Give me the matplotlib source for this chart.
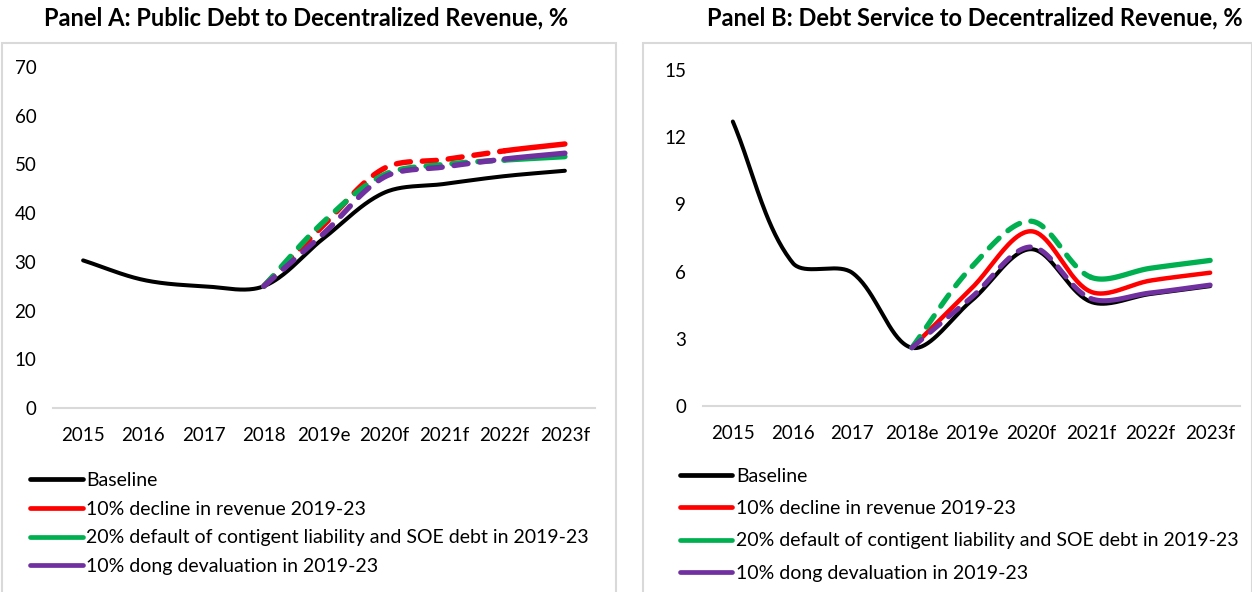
import numpy as np
import matplotlib.pyplot as plt
from matplotlib.patches import Rectangle

plt.rcParams['font.family'] = ['Lato', 'DejaVu Sans']

# ---- data ----
years_a = ['2015', '2016', '2017', '2018', '2019e', '2020f', '2021f', '2022f', '2023f']
years_b = ['2015', '2016', '2017', '2018e', '2019e', '2020f', '2021f', '2022f', '2023f']

labels = ['Baseline',
          '10% decline in revenue 2019-23',
          '20% default of contigent liability and SOE debt in 2019-23',
          '10% dong devaluation in 2019-23']
colors = ['#000000', '#FF0000', '#00B050', '#7030A0']

# Panel A : public debt / decentralized revenue (%)
debt_base = [30.3, 26.3, 25.0, 25.0, 34.9, 44.2, 46.0, 47.6, 48.7]
debt_rev = [None, None, None, 25.0, 37.6, 49.2, 51.0, 52.8, 54.2]
debt_soe = [None, None, None, 25.0, 38.3, 47.9, 50.0, 50.9, 51.6]
debt_fx = [None, None, None, 25.0, 35.9, 47.4, 49.5, 51.1, 52.3]

# Panel B : debt service / decentralized revenue (%)
serv_base = [12.7, 6.4, 5.95, 2.6, 4.7, 7.0, 4.65, 5.0, 5.35]
serv_rev = [None, None, None, 2.6, 5.25, 7.8, 5.1, 5.6, 5.95]
serv_soe = [None, None, None, 2.6, 6.2, 8.25, 5.75, 6.15, 6.5]
serv_fx = [None, None, None, 2.6, 4.85, 7.1, 4.8, 5.05, 5.4]


def smooth(ax, x, y, n=40):
    """Courbe lissée (Bézier cubique) calculée en pixels, bras des points de
    contrôle proportionnels à la longueur des segments voisins"""
    P = ax.transData.transform(np.column_stack([x, y]).astype(float))
    m = len(P)
    segs = []
    for i in range(m - 1):
        p0 = P[i - 1] if i > 0 else P[i]
        p1, p2 = P[i], P[i + 1]
        p3 = P[i + 2] if i + 2 < m else p2
        d01 = np.hypot(*(p1 - p0))
        d12 = np.hypot(*(p2 - p1))
        d23 = np.hypot(*(p3 - p2))
        c1 = p1 + (p2 - p0) / 3 * (d12 / (d01 + d12)) if d01 > 0 else p1 + (p2 - p1) / 3
        c2 = p2 - (p3 - p1) / 3 * (d12 / (d12 + d23)) if d23 > 0 else p2 - (p2 - p1) / 3
        t = np.linspace(0, 1, n)[:, None]
        pts = (1 - t)**3 * p1 + 3 * (1 - t)**2 * t * c1 + 3 * (1 - t) * t**2 * c2 + t**3 * p2
        segs.append(ax.transData.inverted().transform(pts))
    return segs


def draw(ax, vals, color, dashed_upto, lw):
    """dashed_upto : indice du dernier point de la partie en tirets"""
    xs = [i for i, v in enumerate(vals) if v is not None]
    ys = [vals[i] for i in xs]
    segs = smooth(ax, xs, ys)
    dash, solid = [], []
    for k, s in enumerate(segs):
        if xs[k + 1] <= dashed_upto:
            dash.append(s)
        else:
            solid.append(s)
    if solid:
        pts = np.vstack(solid)
        ax.plot(pts[:, 0], pts[:, 1], color=color, lw=lw, solid_capstyle='round')
    if dash:
        pts = np.vstack(dash)
        ax.plot(pts[:, 0], pts[:, 1], color=color, lw=lw, dashes=(2.6, 2.2),
                dash_capstyle='round')


fig = plt.figure(figsize=(12.52, 5.92), dpi=100)
W, H = 1252, 592

# cadres gris autour des deux graphiques
for x0, x1 in [(2, 616), (643, 1252)]:
    fig.patches.append(Rectangle((x0 / W, -0.01), (x1 - x0) / W, (H - 43) / H + 0.01,
                                 transform=fig.transFigure, fill=False,
                                 edgecolor='#D9D9D9', lw=1.5))

axA = fig.add_axes([53 / W, (H - 408) / H, (595 - 53) / W, (408 - 67) / H])
axB = fig.add_axes([703 / W, (H - 406) / H, (1240 - 703) / W, (406 - 70) / H])

for ax, cats, ymax, step in [(axA, years_a, 70, 10), (axB, years_b, 15, 3)]:
    ax.set_xlim(-0.5, 8.5)
    ax.set_ylim(0, ymax)
    ax.set_yticks(np.arange(0, ymax + 1, step))
    ax.set_xticks(range(len(cats)))
    ax.set_xticklabels(cats)
    for s in ['top', 'right', 'left']:
        ax.spines[s].set_visible(False)
    ax.spines['bottom'].set_color('#D9D9D9')
    ax.spines['bottom'].set_linewidth(1.5)
    ax.tick_params(length=0, labelsize=13.5)
    ax.tick_params(axis='x', pad=14)
    ax.tick_params(axis='y', pad=12)
    ax.patch.set_visible(False)

draw(axA, debt_base, colors[0], -1, 2.9)
draw(axA, debt_rev, colors[1], 7, 3.9)
draw(axA, debt_soe, colors[2], 7, 3.9)
draw(axA, debt_fx, colors[3], 7, 3.9)

draw(axB, serv_base, colors[0], -1, 2.9)
draw(axB, serv_rev, colors[1], -1, 3.2)
draw(axB, serv_soe, colors[2], 6, 3.8)
draw(axB, serv_fx, colors[3], 6, 3.6)

fig.text(306 / W, 1 - 18 / H, 'Panel A: Public Debt to Decentralized Revenue, %',
         ha='center', va='center', fontsize=17, fontweight='bold')
fig.text(975 / W, 1 - 18 / H, 'Panel B: Debt Service to Decentralized Revenue, %',
         ha='center', va='center', fontsize=17, fontweight='bold')

handles = [plt.Line2D([], [], color=c, lw=3.4, solid_capstyle='round') for c in colors]
for ax, x0, y0, sp in [(axA, 30, 472, 0.6), (axB, 680, 468, 0.78)]:
    ax.legend(handles, labels, loc='upper left', bbox_to_anchor=(x0 / W, 1 - y0 / H),
              bbox_transform=fig.transFigure, frameon=False, fontsize=14,
              handlelength=2.7, handletextpad=0.2, labelspacing=sp, borderpad=0,
              borderaxespad=0)

fig.savefig('out.png', dpi=100)
